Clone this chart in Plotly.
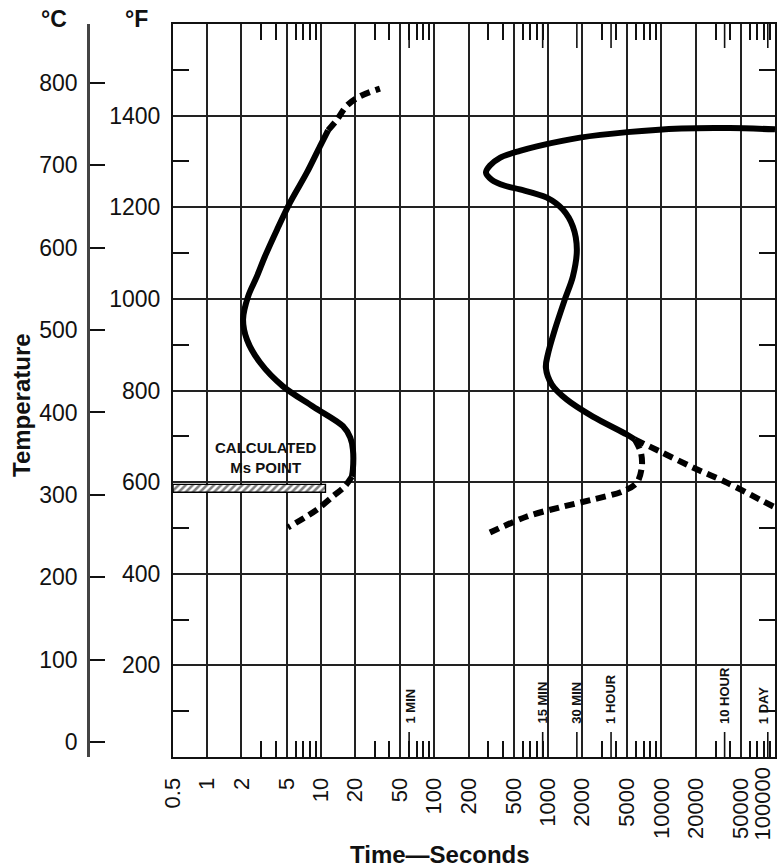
import math
import plotly.graph_objects as go

# ---------------- data ----------------
TIME_TICKS = [0.5, 1, 2, 5, 10, 20, 50, 100, 200, 500, 1000, 2000, 5000,
              10000, 20000, 50000, 100000]
TIME_TICK_LABELS = ["0.5", "1", "2", "5", "10", "20", "50", "100", "200", "500",
                    "1000", "2000", "5000", "10000", "20000", "50000", "100000"]
MINOR_TIME_TICKS = [3, 4, 6, 7, 8, 9,
                    30, 40, 60, 70, 80, 90,
                    300, 400, 600, 700, 800, 900,
                    3000, 4000, 6000, 7000, 8000, 9000,
                    30000, 40000, 60000, 70000, 80000, 90000]
MARK_TIMES = [60, 900, 1800, 3600, 36000, 86400]
MARK_LABELS = ["1 MIN", "15 MIN", "30 MIN", "1 HOUR", "10 HOUR", "1 DAY"]
MARK_SHIFT = [1, 0, 0, 0, 0, -4]

F_TICKS = [200, 400, 600, 800, 1000, 1200, 1400]
F_MINOR = [100, 300, 500, 700, 900, 1100, 1300, 1500]
C_TICKS = [0, 100, 200, 300, 400, 500, 600, 700, 800]
F_RANGE = [0, 1600]

# start-of-transformation curve (left)
START_SOLID_T = [11.6, 9.84, 7.56, 5.36, 4.12, 3.23, 2.74, 2.29, 2.07, 2.24,
                 2.92, 4.65, 8.54, 15.7, 18.2, 19.2, 19.2, 18.8]
START_SOLID_F = [1368, 1333, 1276, 1210, 1151, 1093, 1049, 1005, 955, 911,
                 861, 809, 765, 722, 697, 671, 628, 612]
START_DASH_TOP_T = [11.6, 13.9, 17.0, 22.1, 33.2]
START_DASH_TOP_F = [1368, 1391, 1422, 1442, 1459]
START_DASH_BOT_T = [18.8, 16.3, 12.8, 9.27, 7.26, 5.14]
START_DASH_BOT_F = [612, 591, 569, 540, 523, 501]

# end-of-transformation curve (right)
END_SOLID_T = [100000, 40000, 15000, 5000, 1914, 800, 567, 378, 309, 285,
               321, 419, 567, 980, 1355, 1660, 1799, 1660, 1411, 1152, 1000,
               960, 1084, 1470, 2490, 4955, 5835]
END_SOLID_F = [1370, 1373, 1372, 1364, 1352, 1333, 1323, 1308, 1291, 1276,
               1260, 1247, 1239, 1221, 1195, 1158, 1108, 1049, 999, 933, 879,
               850, 813, 780, 743, 704, 693]
END_DASH_LOW_T = [5835, 6590, 6725, 6080, 4573, 2490, 1276, 653, 309]
END_DASH_LOW_F = [693, 665, 634, 599, 580, 562, 545, 525, 490]
END_DASH_UP_T = [5835, 9680, 18900, 37670, 73450, 100000]
END_DASH_UP_F = [693, 667, 632, 599, 562, 545]

# calculated Ms band
MS_T = [0.5, 11.0]
MS_F = [578, 595]
MS_LABEL_T = 3.3
MS_LABEL_F = 653

# ---------------- layout helpers ----------------
W, H = 777, 868
ML, MR, MT, MB = 60, 2, 24, 111
PW, PH = W - ML - MR, H - MT - MB


def px_x(px):
    return (px - ML) / PW


def px_y(py):
    return (H - MB - py) / PH


FONT = "Liberation Sans, Arial, sans-serif"
NARROW = "Liberation Sans Narrow, Arial Narrow, Liberation Sans, Arial, sans-serif"
INK = "#111111"
GRID = "#222222"

fig = go.Figure()

solid = dict(color="black", width=6, shape="spline", smoothing=0.9)
dashed = dict(color="black", width=6, shape="spline", smoothing=0.9, dash="10px,6px")

# Ms hatched band
fig.add_trace(go.Scatter(
    x=[MS_T[0], MS_T[1], MS_T[1], MS_T[0], MS_T[0]],
    y=[MS_F[0], MS_F[0], MS_F[1], MS_F[1], MS_F[0]],
    mode="lines", fill="toself", fillcolor="white",
    fillpattern=dict(shape="/", fgcolor="black", bgcolor="white", size=5, solidity=0.5),
    line=dict(color="black", width=1.4), hoverinfo="skip", showlegend=False))

for xs, ys, ln in [
    (START_SOLID_T, START_SOLID_F, solid),
    (START_DASH_TOP_T, START_DASH_TOP_F, dashed),
    (START_DASH_BOT_T, START_DASH_BOT_F, dashed),
    (END_SOLID_T, END_SOLID_F, solid),
    (END_DASH_LOW_T, END_DASH_LOW_F, dashed),
    (END_DASH_UP_T, END_DASH_UP_F, dashed),
]:
    fig.add_trace(go.Scatter(x=xs, y=ys, mode="lines", line=ln,
                             hoverinfo="skip", showlegend=False))

# invisible trace to hold the Celsius axis
fig.add_trace(go.Scatter(x=[1], y=[0], yaxis="y2", mode="markers",
                         marker=dict(size=1, opacity=0), hoverinfo="skip",
                         showlegend=False))

# long ticks for time marks (bottom and top)
shapes = []
for t in MARK_TIMES:
    shapes.append(dict(type="line", xref="x", yref="y domain", x0=t, x1=t,
                       y0=0, y1=25 / PH, line=dict(color=INK, width=1.6)))
    shapes.append(dict(type="line", xref="x", yref="y domain", x0=t, x1=t,
                       y0=1, y1=1 - 24 / PH, line=dict(color=INK, width=1.6)))

annotations = []
for t, lab, sh in zip(MARK_TIMES, MARK_LABELS, MARK_SHIFT):
    annotations.append(dict(x=math.log10(t), y=68, xref="x", yref="y",
                            text="<b>" + lab + "</b>", xshift=sh,
                            textangle=-90, showarrow=False, yanchor="bottom",
                            xanchor="center",
                            font=dict(family=NARROW, size=13, color=INK)))
annotations.append(dict(x=math.log10(MS_LABEL_T), y=MS_LABEL_F, xref="x", yref="y",
                        text="<b>CALCULATED<br>Ms POINT</b>", showarrow=False,
                        xanchor="center", yanchor="middle",
                        font=dict(family=NARROW, size=15, color=INK)))
# last time label sits just inside the right edge (as in the original print)
annotations.append(dict(x=math.log10(TIME_TICKS[-1]), y=0, xref="x", yref="paper",
                        text=TIME_TICK_LABELS[-1], textangle=-90, showarrow=False,
                        xanchor="center", yanchor="top", xshift=-13, yshift=-9,
                        font=dict(family=FONT, size=22, color=INK)))
annotations += [
    dict(x=px_x(440), y=px_y(854), xref="paper", yref="paper",
         text="<b>Time\u2014Seconds</b>", showarrow=False,
         xanchor="center", yanchor="middle",
         font=dict(family=FONT, size=24, color=INK)),
    dict(x=px_x(21), y=px_y(405), xref="paper", yref="paper",
         text="<b>Temperature</b>", textangle=-90, showarrow=False,
         xanchor="center", yanchor="middle",
         font=dict(family=FONT, size=24, color=INK)),
    dict(x=px_x(54), y=px_y(19), xref="paper", yref="paper",
         text="<b>\u00b0C</b>", showarrow=False,
         xanchor="center", yanchor="middle",
         font=dict(family=FONT, size=23, color=INK)),
    dict(x=px_x(136), y=px_y(19), xref="paper", yref="paper",
         text="<b>\u00b0F</b>", showarrow=False,
         xanchor="center", yanchor="middle",
         font=dict(family=FONT, size=23, color=INK)),
]

fig.update_layout(
    width=W, height=H, autosize=False,
    margin=dict(l=ML, r=MR, t=MT, b=MB, pad=0, autoexpand=False),
    paper_bgcolor="white", plot_bgcolor="white",
    font=dict(family=FONT, color=INK, size=22),
    showlegend=False,
    shapes=shapes, annotations=annotations,
    xaxis=dict(
        type="log", domain=[px_x(173), 1], automargin=False,
        range=[math.log10(TIME_TICKS[0]), math.log10(TIME_TICKS[-1])],
        tickmode="array", tickvals=TIME_TICKS[:-1], ticktext=TIME_TICK_LABELS[:-1],
        tickangle=-90, ticks="", ticklabelstandoff=10,
        tickfont=dict(family=FONT, size=22, color=INK),
        showgrid=True, gridcolor=GRID, gridwidth=1.8,
        showline=True, linecolor=INK, linewidth=2, mirror="ticks",
        minor=dict(tickmode="array", tickvals=MINOR_TIME_TICKS, ticks="inside",
                   ticklen=16, tickcolor=INK, tickwidth=1.6, showgrid=False),
        zeroline=False,
    ),
    yaxis=dict(
        range=F_RANGE, tickmode="array", tickvals=F_TICKS, automargin=False,
        ticks="", ticklabelstandoff=6,
        tickfont=dict(family=FONT, size=23, color=INK),
        showgrid=True, gridcolor=GRID, gridwidth=1.5,
        showline=True, linecolor=INK, linewidth=2, mirror="ticks",
        minor=dict(tickmode="array", tickvals=F_MINOR, ticks="inside",
                   ticklen=16, tickcolor=INK, tickwidth=1.6, showgrid=False),
        zeroline=False,
    ),
    yaxis2=dict(
        overlaying="y", anchor="free", position=px_x(88), side="left",
        automargin=False,
        range=[(F_RANGE[0] - 32) / 1.8, (F_RANGE[1] - 32) / 1.8],
        tickmode="array", tickvals=C_TICKS, ticks="inside", ticklen=15,
        tickwidth=1.6, tickcolor=INK, ticklabelstandoff=5,
        tickfont=dict(family=FONT, size=23, color=INK),
        showgrid=False, showline=True, linecolor="#444", linewidth=2.5,
        zeroline=False,
    ),
)

fig.write_html(
    "out.html",
    config={"responsive": False, "displayModeBar": False},
    post_script="document.body.style.margin='0px';"
                "document.body.style.overflow='hidden';",
)
